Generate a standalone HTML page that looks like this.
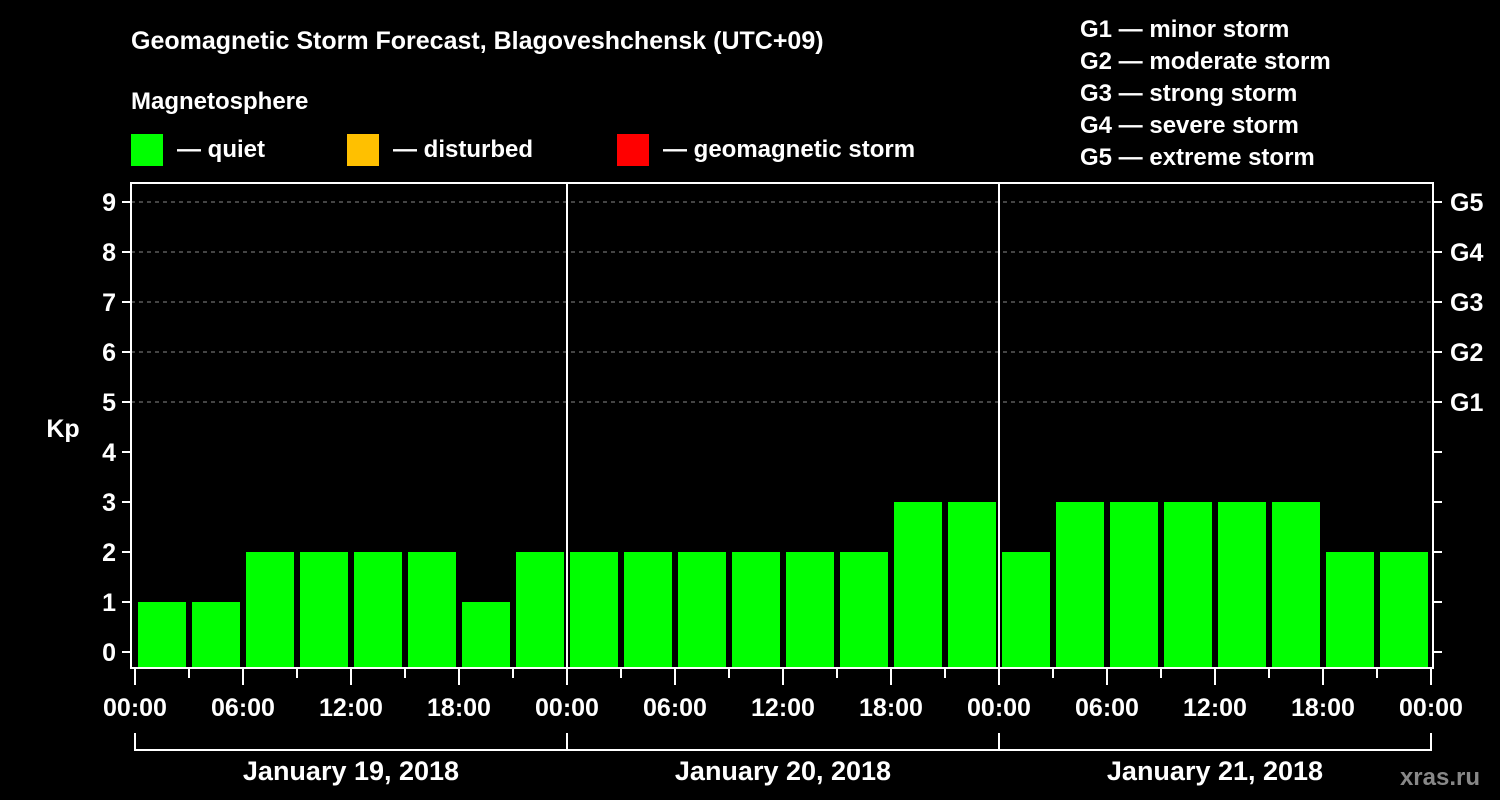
<!DOCTYPE html>
<html><head><meta charset="utf-8"><style>
body{margin:0;background:#000;}
svg{display:block;font-family:"Liberation Sans",Arial,sans-serif;font-weight:bold;}
</style></head><body>
<svg id="chart" width="1500" height="800" viewBox="0 0 1500 800">
<rect width="1500" height="800" fill="#000"/>
<text x="131" y="49" fill="#fff" font-size="25">Geomagnetic Storm Forecast, Blagoveshchensk (UTC+09)</text>
<text x="131" y="109" fill="#fff" font-size="24">Magnetosphere</text>
<g><rect x="131" y="134" width="32" height="32" fill="#00ff00"/><text x="177" y="157" fill="#fff" font-size="24">— quiet</text></g>
<g><rect x="347" y="134" width="32" height="32" fill="#ffc000"/><text x="393" y="157" fill="#fff" font-size="24">— disturbed</text></g>
<g><rect x="617" y="134" width="32" height="32" fill="#ff0000"/><text x="663" y="157" fill="#fff" font-size="24">— geomagnetic storm</text></g>
<g fill="#fff" font-size="24">
<text x="1080" y="37">G1 — minor storm</text>
<text x="1080" y="69">G2 — moderate storm</text>
<text x="1080" y="101">G3 — strong storm</text>
<text x="1080" y="133">G4 — severe storm</text>
<text x="1080" y="165">G5 — extreme storm</text>
</g>
<text x="63" y="437" fill="#fff" font-size="25" text-anchor="middle">Kp</text>
<text x="1480" y="785" fill="#888" font-size="24" text-anchor="end">xras.ru</text>
<g id="plot"></g>
</svg>
<script>
const kpValues=[1,1,2,2,2,2,1,2, 2,2,2,2,2,2,3,3, 2,3,3,3,3,3,2,2];
const yTicks=[0,1,2,3,4,5,6,7,8,9];
const gLabels=[[5,"G1"],[6,"G2"],[7,"G3"],[8,"G4"],[9,"G5"]];
const timeLabels=["00:00","06:00","12:00","18:00","00:00","06:00","12:00","18:00","00:00","06:00","12:00","18:00","00:00"];
const dayLabels=["January 19, 2018","January 20, 2018","January 21, 2018"];
const NS="http://www.w3.org/2000/svg";
const L=131,R=1433,T=183,B=668;
const x=h=>135+h*18;
const y=v=>652-v*50;
const g=document.getElementById('plot');
function mk(tag,a,txt){const e=document.createElementNS(NS,tag);for(const k in a)e.setAttribute(k,a[k]);if(txt!==undefined)e.textContent=txt;g.appendChild(e);return e;}
yTicks.forEach(v=>{
 if(v>=5){const gl=mk('line',{x1:L,x2:R,y1:y(v),y2:y(v),stroke:'#888','stroke-dasharray':'4,4','stroke-width':1});
 
 }
 mk('line',{x1:L-9,x2:L,y1:y(v),y2:y(v),stroke:'#fff','stroke-width':2});
 mk('line',{x1:R,x2:R+9,y1:y(v),y2:y(v),stroke:'#fff','stroke-width':2});
 const t=mk('text',{x:L-15,y:y(v)+9,fill:'#fff','font-size':25,'text-anchor':'end'},String(v));
 
 
});
gLabels.forEach(([v,s])=>{
 const t=mk('text',{x:1450,y:y(v)+9,fill:'#fff','font-size':25},s);
 
 
});
kpValues.forEach((v,i)=>{
 const c=v>=5?'#ff0000':(v>=4?'#ffc000':'#00ff00');
 const b=mk('rect',{x:x(i*3)+3,y:y(v),width:48,height:B-y(v),fill:c});
 
 
});
mk('rect',{x:L,y:T,width:R-L,height:B-T,fill:'none',stroke:'#fff','stroke-width':2});
[24,48].forEach(h=>mk('line',{x1:x(h),x2:x(h),y1:T,y2:B,stroke:'#fff','stroke-width':2}));
for(let h=0;h<=72;h+=3){
 const major=h%6===0;
 mk('line',{x1:x(h),x2:x(h),y1:B,y2:B+(major?17:10),stroke:'#fff','stroke-width':2});
}
timeLabels.forEach((s,i)=>{
 const t=mk('text',{x:x(i*6),y:716,fill:'#fff','font-size':25,'text-anchor':'middle'},s);
 
 
});
mk('path',{d:`M${x(0)} 733 V750 H${x(72)} V733 M${x(24)} 733 V750 M${x(48)} 733 V750`,stroke:'#fff','stroke-width':2,fill:'none'});
dayLabels.forEach((s,i)=>{
 const t=mk('text',{x:x(i*24+12),y:780,fill:'#fff','font-size':27,'text-anchor':'middle'},s);
 
 
});
</script>
</body></html>
